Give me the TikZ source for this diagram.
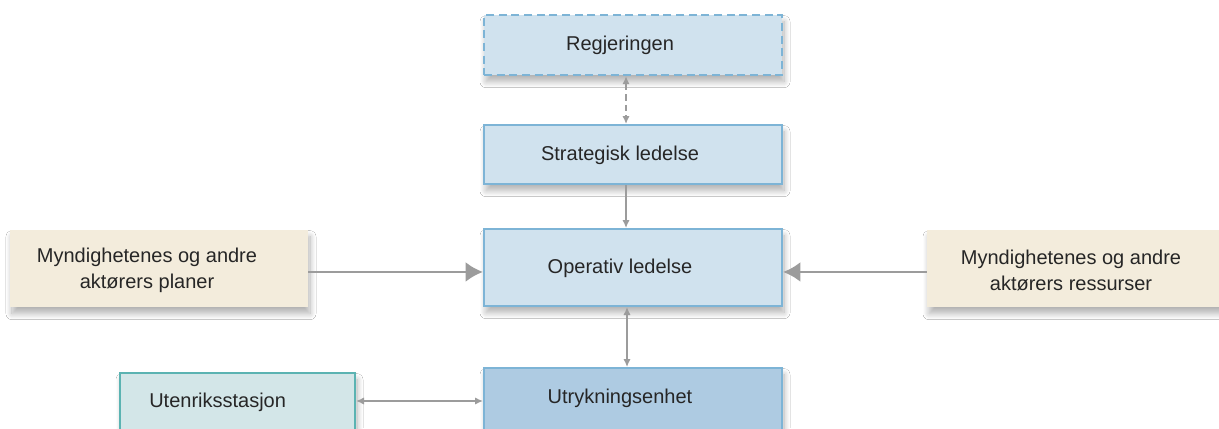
\documentclass[tikz,border=0pt]{standalone}
\usepackage{fontspec}
\setmainfont{Liberation Sans}
\usetikzlibrary{arrows.meta,shadows.blur}
\definecolor{bluefill}{HTML}{D0E2EE}
\definecolor{bluedark}{HTML}{AECBE2}
\definecolor{blueline}{HTML}{7DB4D6}
\definecolor{tanfill}{HTML}{F3ECDC}
\definecolor{tealfill}{HTML}{D3E6E8}
\definecolor{tealline}{HTML}{5BB3B2}
\definecolor{arrowgray}{HTML}{9C9C9C}
\tikzset{
  shad/.style={blur shadow={shadow xshift=1.5pt,shadow yshift=-5pt,shadow blur steps=12,shadow blur radius=4.5pt,shadow opacity=30}},
  bluebox/.style={shad,rectangle,fill=bluefill,draw=blueline,line width=1.5pt,inner sep=0pt},
  tanbox/.style={shad,rectangle,fill=tanfill,draw=none,inner sep=0pt},
  tealbox/.style={shad,rectangle,fill=tealfill,draw=tealline,line width=1.5pt,inner sep=0pt},
  lbl/.style={font=\fontsize{15}{19.5}\selectfont,text=black!85,inner sep=0pt,align=center},
  thin/.style={draw=arrowgray,line width=1.1pt,{Latex[length=6pt,width=5.5pt]}-{Latex[length=6pt,width=5.5pt]}},
  thinone/.style={draw=arrowgray,line width=1.1pt,-{Latex[length=6pt,width=5.5pt]}},
  thick/.style={draw=arrowgray,line width=2.2pt,-{Latex[length=13pt,width=15pt]}},
}
\begin{document}
\begin{tikzpicture}[x=0.75pt,y=-0.75pt]
\useasboundingbox (0,0) rectangle (1219,428);
\clip (0,0) rectangle (1219,428);
\fill[white] (0,0) rectangle (1219,428);
% boxes
\node[bluebox,line width=1.8pt,dash pattern=on 6pt off 3.5pt,minimum width=223.5pt,minimum height=45pt] (reg) at (633,45) {};
\node[bluebox,minimum width=223.5pt,minimum height=44.25pt] (str) at (633,154.5) {};
\node[bluebox,minimum width=223.5pt,minimum height=57.75pt] (op) at (633,267.5) {};
\node[bluebox,fill=bluedark,minimum width=223.5pt,minimum height=69pt] (ur) at (633,414) {};
\node[tanbox,minimum width=223.5pt,minimum height=57.75pt] (lt) at (159,268.5) {};
\node[tanbox,minimum width=223.5pt,minimum height=57.75pt] (rt) at (1076,268.5) {};
\node[tealbox,minimum width=176.25pt,minimum height=65.25pt] (ut) at (237.5,416.5) {};
% labels
\node[lbl] (treg) at (620,45) {Regjeringen};
\node[lbl] (tstr) at (620,155) {Strategisk ledelse};
\node[lbl] (top) at (620,268) {Operativ ledelse};
\node[lbl] (tur) at (620,398) {Utrykningsenhet};
\node[lbl] (tlt) at (147,270) {Myndighetenes og andre\\aktørers planer};
\node[lbl] (trt) at (1071,270) {Myndighetenes og andre\\aktørers ressurser};
\node[lbl,anchor=west] (tut) at (149,402) {Utenriksstasjon};
% connectors
\coordinate (hy) at (0,401);
\draw[thin,dash pattern=on 5pt off 3pt] ([xshift=-5.25pt]reg.south) -- ([xshift=-5.25pt]str.north);
\draw[thinone] ([xshift=-5.25pt]str.south) -- ([xshift=-5.25pt]op.north);
\draw[thin] ([xshift=-4.5pt]op.south) -- ([xshift=-4.5pt]ur.north);
\draw[thick] ([yshift=-2.6pt]lt.east) -- ([yshift=-2.6pt]lt.east -| op.west);
\draw[thick] ([yshift=-2.6pt]rt.west) -- ([yshift=-2.6pt]rt.west -| op.east);
\draw[thin] (ut.east |- hy) -- (ur.west |- hy);
\end{tikzpicture}
\end{document}
